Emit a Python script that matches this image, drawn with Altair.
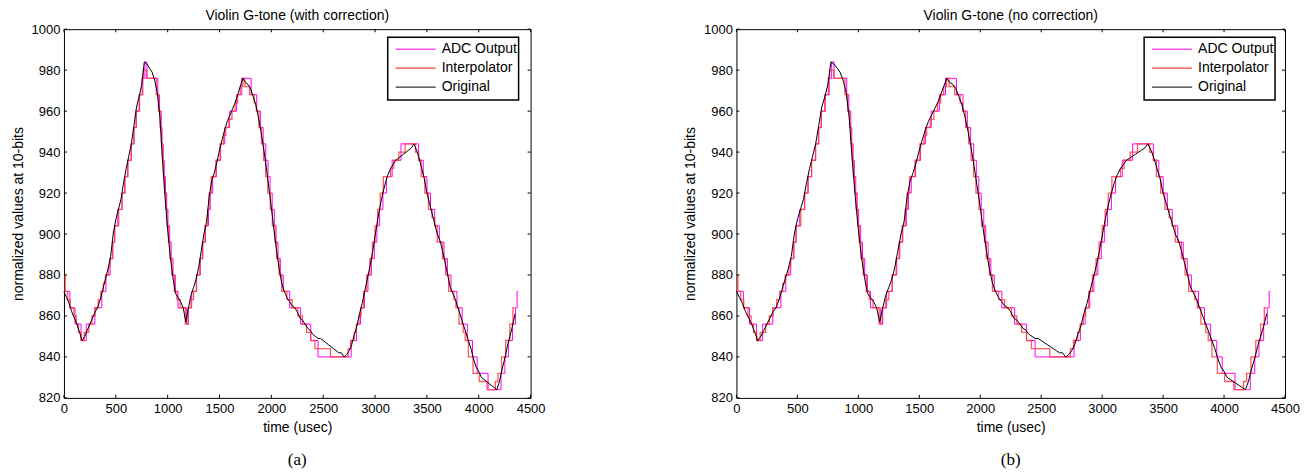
import altair as alt
import pandas as pd

# ---------------- data ----------------
orig_v = [872, 869, 866, 862, 859, 856, 852, 848, 850, 853,
          856, 859, 862, 864, 868, 873, 878, 883, 889, 900,
          907, 912, 917, 925, 932, 938, 944, 953, 962, 967,
          973, 984, 983, 981, 979, 975, 969, 957, 936, 918,
          902, 889, 879, 871, 869, 867, 864, 857, 864, 870,
          874, 878, 884, 892, 900, 906, 918, 926, 930, 935,
          941, 946, 951, 955, 958, 961, 964, 968, 972, 976,
          974, 973, 971, 967, 963, 957, 950, 942, 933, 923,
          913, 902, 892, 883, 876, 872, 869, 867, 865, 864,
          862, 859, 858, 856, 854, 853, 851, 850, 849, 849,
          848, 847, 846, 845, 844, 843, 842, 842, 840, 841,
          843, 846, 851, 855, 861, 866, 872, 878, 884, 891,
          899, 907, 914, 920, 925, 929, 932, 934, 936, 937,
          938, 939, 940, 941, 942, 944, 941, 937, 932, 927,
          920, 915, 910, 905, 900, 897, 892, 886, 880, 874,
          871, 868, 864, 860, 856, 852, 848, 844, 839, 835,
          833, 830, 829, 828, 827, 826, 825, 824, 828, 834,
          839, 845, 850, 855, 861]
orig_step = 25
orig_t = [i * orig_step for i in range(len(orig_v))]

adc_t = [0, 57, 107, 165, 215, 298, 365, 405, 445, 472,
         490, 519, 560, 587, 615, 648, 676, 698, 725, 761,
         781, 800, 905, 922, 938, 946, 957, 967, 979, 991,
         1003, 1019, 1034, 1052, 1074, 1100, 1180, 1200, 1232, 1277,
         1315, 1340, 1365, 1394, 1411, 1434, 1470, 1511, 1550, 1598,
         1665, 1715, 1805, 1859, 1894, 1921, 1946, 1968, 1988, 2008,
         2029, 2045, 2065, 2087, 2115, 2177, 2282, 2380, 2450, 2770,
         2821, 2860, 2898, 2932, 2965, 2993, 3018, 3044, 3076, 3110,
         3165, 3250, 3420, 3465, 3501, 3535, 3575, 3620, 3665, 3698,
         3732, 3790, 3840, 3890, 3940, 3985, 4090, 4215, 4252, 4286,
         4325, 4355, 4370, 4380]
adc_v = [872, 864, 856, 848, 856, 864, 872, 880, 888, 896,
         904, 912, 920, 928, 936, 944, 952, 960, 968, 976,
         984, 976, 968, 960, 952, 944, 936, 928, 920, 912,
         904, 896, 888, 880, 872, 864, 856, 864, 872, 880,
         888, 896, 904, 912, 920, 928, 936, 944, 952, 960,
         968, 976, 968, 960, 952, 944, 936, 928, 920, 912,
         904, 896, 888, 880, 872, 864, 856, 848, 840, 848,
         856, 864, 872, 880, 888, 896, 904, 912, 920, 928,
         936, 944, 936, 928, 920, 912, 904, 896, 888, 880,
         872, 864, 856, 848, 840, 832, 824, 832, 840, 848,
         856, 864, 872, 872]

int_t = [0, 12, 35, 60, 95, 120, 140, 165, 195, 240,
         270, 300, 330, 355, 380, 400, 430, 445, 468, 488,
         528, 559, 588, 617, 650, 673, 695, 729, 754, 765,
         800, 890, 912, 928, 940, 950, 960, 970, 982, 995,
         1008, 1022, 1040, 1065, 1090, 1120, 1170, 1195, 1225, 1250,
         1278, 1310, 1335, 1360, 1385, 1400, 1420, 1465, 1505, 1540,
         1560, 1590, 1620, 1650, 1675, 1700, 1725, 1745, 1790, 1835,
         1855, 1880, 1905, 1925, 1945, 1965, 1990, 2010, 2035, 2050,
         2075, 2100, 2150, 2200, 2255, 2300, 2340, 2380, 2420, 2570,
         2740, 2765, 2800, 2820, 2845, 2865, 2890, 2920, 2950, 2975,
         3000, 3025, 3050, 3080, 3150, 3180, 3230, 3290, 3390, 3420,
         3445, 3480, 3515, 3550, 3575, 3600, 3650, 3680, 3710, 3760,
         3780, 3810, 3850, 3870, 3900, 3945, 4005, 4080, 4160, 4185,
         4220, 4260, 4300, 4330, 4345]
int_v = [880, 872, 868, 864, 860, 856, 852, 848, 852, 856,
         860, 864, 868, 872, 876, 880, 884, 888, 896, 904,
         912, 920, 928, 936, 944, 952, 960, 968, 976, 980,
         976, 968, 960, 952, 944, 936, 928, 920, 912, 904,
         896, 888, 880, 872, 868, 864, 856, 864, 868, 872,
         880, 888, 896, 904, 912, 920, 928, 936, 944, 948,
         952, 956, 960, 964, 968, 972, 976, 972, 968, 964,
         960, 952, 944, 936, 928, 920, 912, 904, 896, 888,
         880, 872, 868, 864, 860, 856, 852, 848, 844, 840,
         844, 848, 852, 856, 860, 864, 872, 880, 888, 896,
         904, 912, 920, 928, 932, 936, 940, 944, 940, 936,
         928, 920, 912, 908, 904, 896, 888, 880, 872, 868,
         864, 856, 852, 848, 840, 832, 828, 824, 828, 832,
         840, 848, 856, 864, 864]

series_names = ["ADC Output", "Interpolator", "Original"]
series_colors = ["#ff00ff", "#ff4040", "#000000"]
series_widths = [1.0, 1.3, 1.0]

x_ticks = [0, 500, 1000, 1500, 2000, 2500, 3000, 3500, 4000, 4500]
y_ticks = [820, 840, 860, 880, 900, 920, 940, 960, 980, 1000]

titles = ["Violin G-tone (with correction)", "Violin G-tone (no correction)"]
captions = ["(a)", "(b)"]

FONT = "Liberation Sans"
H = 369

df_orig = pd.DataFrame({"t": orig_t, "v": orig_v})
df_adc = pd.DataFrame({"t": adc_t, "v": adc_v})
df_int = pd.DataFrame({"t": int_t, "v": int_v})
dummy = pd.DataFrame({"a": [0]})


def panel(title, caption, W, lx):
    xs = alt.Scale(domain=[x_ticks[0], x_ticks[-1]], nice=False, zero=False)
    ys = alt.Scale(domain=[y_ticks[0], y_ticks[-1]], nice=False, zero=False)
    xax = alt.Axis(values=x_ticks, format="d", title="time (usec)", tickSize=0,
                   labelPadding=5, titlePadding=5, domain=False, grid=False,
                   labelFlush=False)
    yax = alt.Axis(values=y_ticks, format="d", title="normalized values at 10-bits",
                   tickSize=0, labelPadding=4, titlePadding=6, domain=False,
                   grid=False, labelFlush=False)

    def enc(ch):
        return ch.encode(x=alt.X("t:Q", scale=xs, axis=xax),
                         y=alt.Y("v:Q", scale=ys, axis=yax))

    adc = enc(alt.Chart(df_adc).mark_line(interpolate="step-after",
                                          color=series_colors[0],
                                          strokeWidth=series_widths[0]))
    intp = enc(alt.Chart(df_int).mark_line(interpolate="step-after",
                                           color=series_colors[1],
                                           strokeWidth=series_widths[1],
                                           opacity=0.85))
    orig = enc(alt.Chart(df_orig).mark_line(color=series_colors[2],
                                            strokeWidth=series_widths[2]))

    # inward tick marks on all four sides (MATLAB box style)
    ylen = 1.5 * (y_ticks[-1] - y_ticks[0]) / 180
    xlen = 3 * (x_ticks[-1] - x_ticks[0]) / W
    xb = pd.DataFrame({"t": x_ticks, "v": [y_ticks[0]] * len(x_ticks),
                       "v2": [y_ticks[0] + ylen] * len(x_ticks)})
    xt = pd.DataFrame({"t": x_ticks, "v": [y_ticks[-1]] * len(x_ticks),
                       "v2": [y_ticks[-1] - ylen] * len(x_ticks)})
    yl = pd.DataFrame({"t": [x_ticks[0]] * len(y_ticks),
                       "t2": [x_ticks[0] + xlen] * len(y_ticks), "v": y_ticks})
    yr = pd.DataFrame({"t": [x_ticks[-1]] * len(y_ticks),
                       "t2": [x_ticks[-1] - xlen] * len(y_ticks), "v": y_ticks})
    tick_layers = []
    for d in (xb, xt):
        tick_layers.append(alt.Chart(d).mark_rule(color="black", strokeWidth=1).encode(
            x=alt.X("t:Q", scale=xs, axis=xax), y=alt.Y("v:Q", scale=ys, axis=yax), y2="v2"))
    for d in (yl, yr):
        tick_layers.append(alt.Chart(d).mark_rule(color="black", strokeWidth=1).encode(
            x=alt.X("t:Q", scale=xs, axis=xax), x2="t2", y=alt.Y("v:Q", scale=ys, axis=yax)))

    # legend box (MATLAB style, inside top-right)
    box = alt.Chart(dummy).mark_rect(fill="white", stroke="black", strokeWidth=1.5).encode(
        x=alt.value(lx), x2=alt.value(lx + 131), y=alt.value(8), y2=alt.value(71))
    leg = [box]
    for i, (name, col, sw) in enumerate(zip(series_names, series_colors, series_widths)):
        yy = 20 + i * 19
        leg.append(alt.Chart(dummy).mark_rule(color=col, strokeWidth=sw).encode(
            x=alt.value(lx + 8), x2=alt.value(lx + 48), y=alt.value(yy)))
        leg.append(alt.Chart(dummy).mark_text(align="left", baseline="middle", font=FONT,
                                              fontSize=14, color="black").encode(
            x=alt.value(lx + 54), y=alt.value(yy), text=alt.value(name)))

    cap = alt.Chart(dummy).mark_text(font="Liberation Serif", fontSize=17, color="black",
                                     baseline="middle", align="center").encode(
        x=alt.value(W / 2), y=alt.value(H + 62), text=alt.value(caption))

    return alt.layer(adc, intp, orig, *tick_layers, *leg, cap).properties(
        width=W, height=H,
        title=alt.TitleParams(title, font=FONT, fontSize=14, fontWeight="normal",
                              color="black", offset=0, anchor="middle"))


left = panel(titles[0], captions[0], 467, 324)
right = panel(titles[1], captions[1], 549, 408)

chart = alt.hconcat(left, right, spacing=137).configure_view(
    stroke="black", strokeWidth=1
).configure_axis(
    labelFont=FONT, titleFont=FONT, labelFontSize=13, titleFontSize=14,
    titleFontWeight="normal", labelColor="black", titleColor="black"
).properties(padding={"left": 2, "top": 0, "right": 2, "bottom": 0})

chart.save("out.html", embed_options={"renderer": "svg", "actions": False})
